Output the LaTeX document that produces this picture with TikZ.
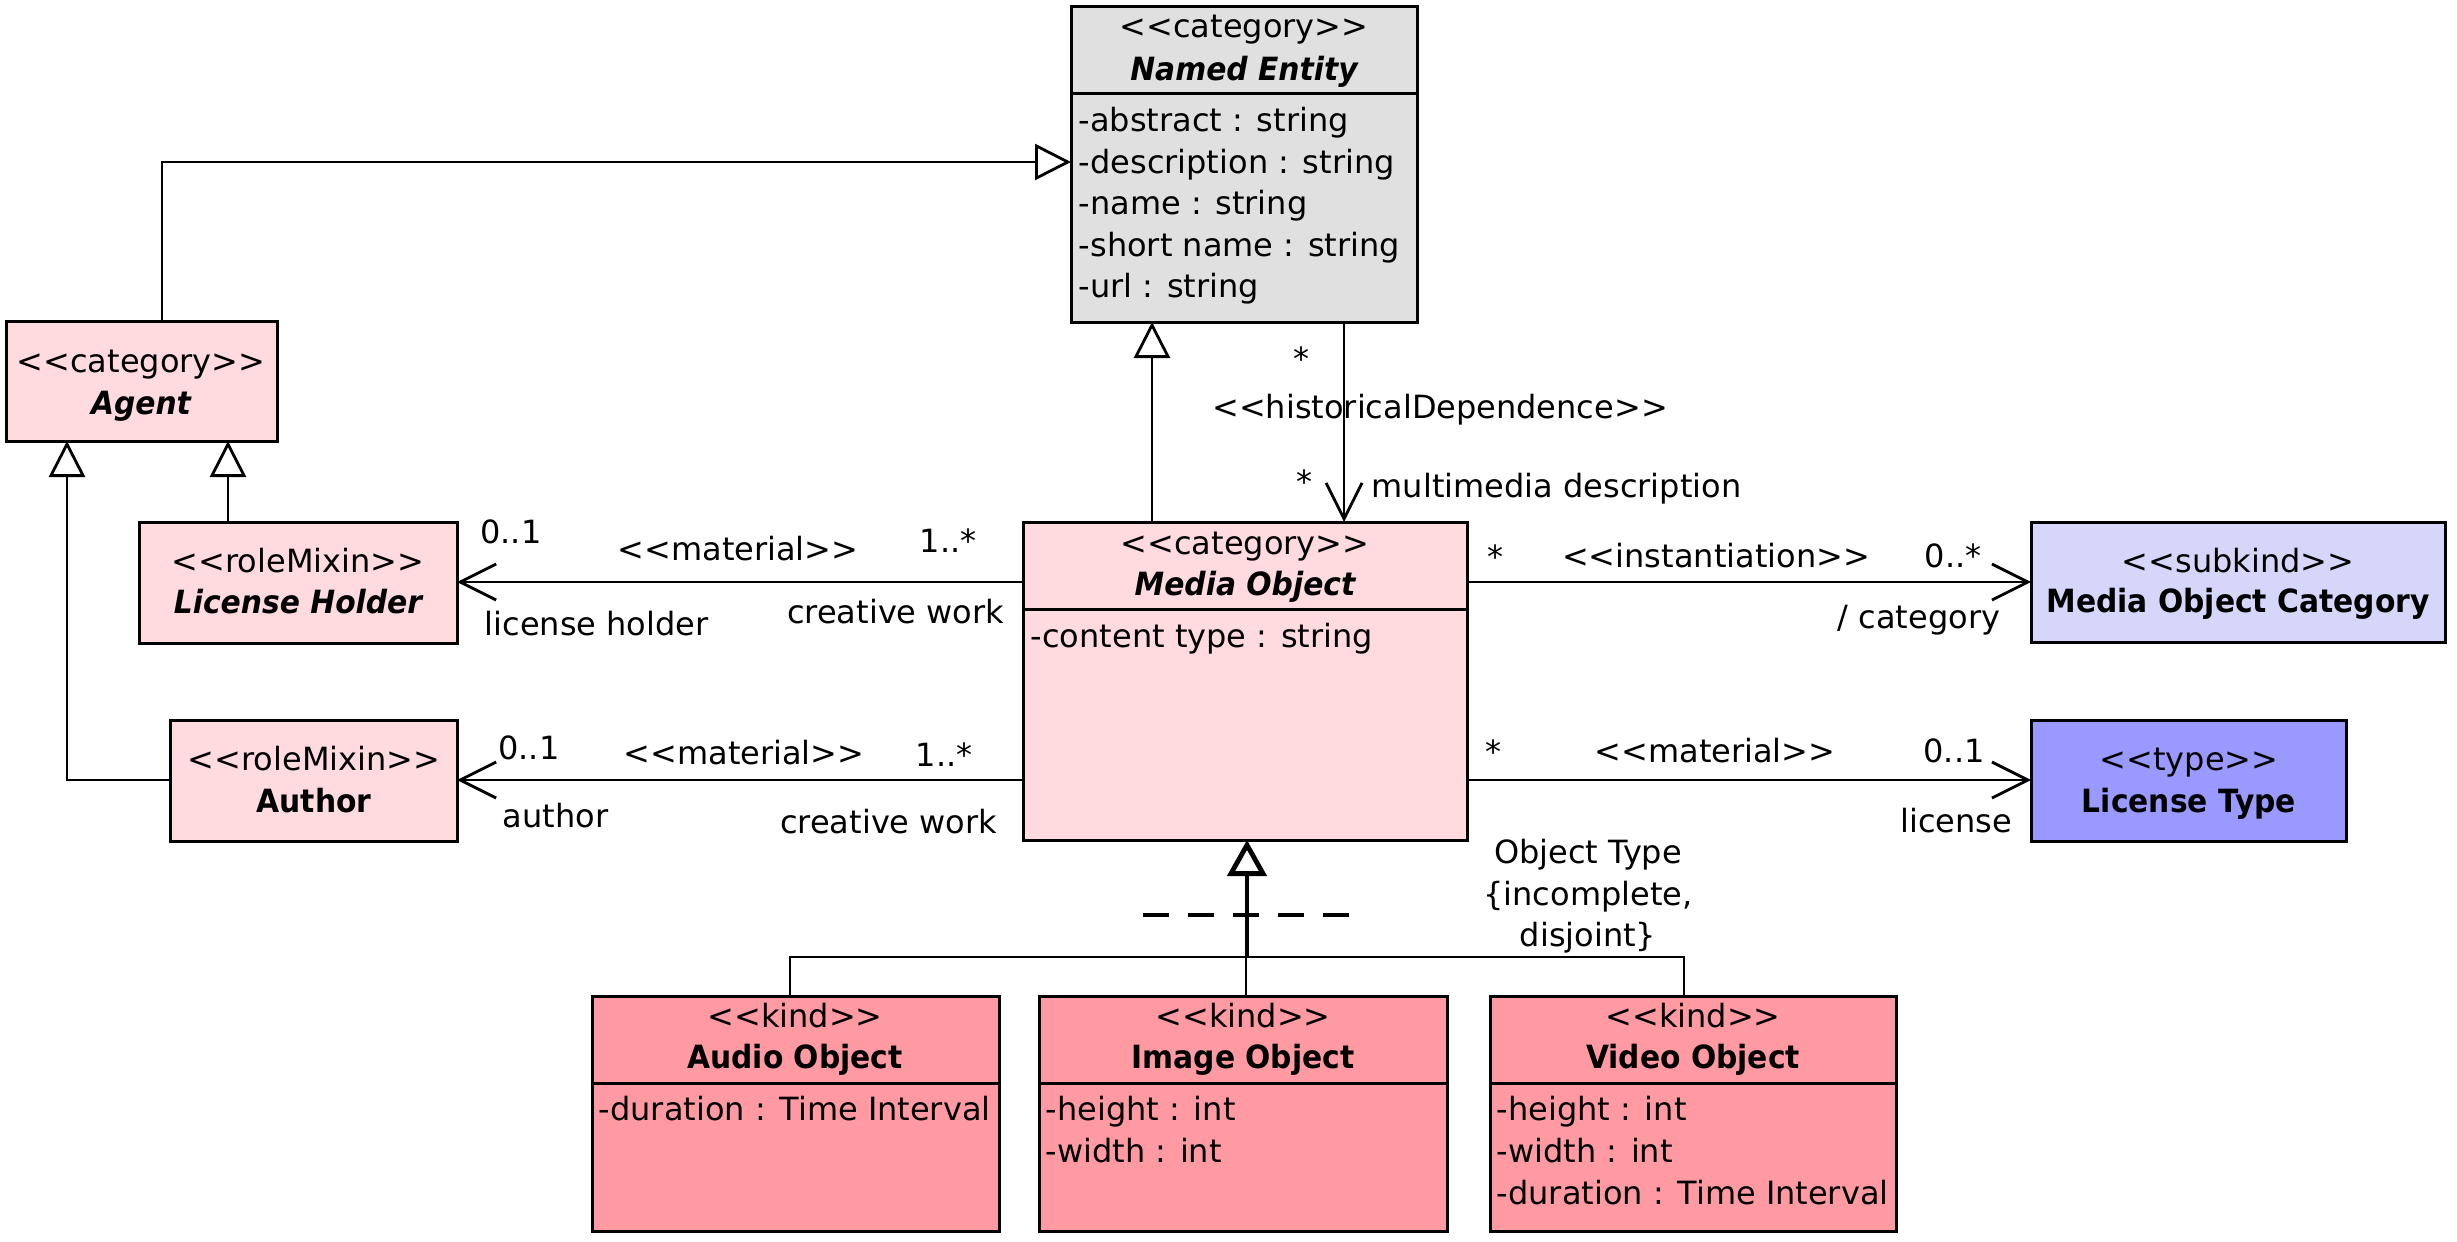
\documentclass[tikz,border=0pt]{standalone}
\usepackage{fontspec}
\setmainfont{DejaVu Sans}[BoldFeatures={FakeStretch=0.93},BoldItalicFeatures={FakeStretch=0.93}]
\usetikzlibrary{arrows.meta}
\definecolor{negray}{HTML}{E0E0E0}
\definecolor{catpink}{HTML}{FFDADF}
\definecolor{kindpink}{HTML}{FF9AA2}
\definecolor{subkindblue}{HTML}{D6D6FA}
\definecolor{typeblue}{HTML}{9999FF}
\newcommand{\stereo}[1]{<\kern0pt<#1>\kern0pt>}
\begin{document}
\begin{tikzpicture}[x=0.25pt,y=-0.25pt, font=\fontsize{8}{10}\selectfont,
 box/.style={draw, line width=0.75pt, inner sep=0pt, outer sep=0pt, anchor=north west},
 lbl/.style={inner sep=0pt, anchor=base},
 lbll/.style={inner sep=0pt, anchor=base west},
 lblr/.style={inner sep=0pt, anchor=base east},
 bi/.style={font=\fontsize{8}{10}\selectfont\bfseries\itshape},
 bo/.style={font=\fontsize{8}{10}\selectfont\bfseries},
 sepline/.style={line width=0.75pt},
 gen/.style={line width=0.7pt, -{Triangle[open, length=9pt, width=9pt]}},
 assoc/.style={line width=0.7pt, -{Straight Barb[length=9pt, width=9pt]}},
 ]
\useasboundingbox (0,0) rectangle (2457,1242);

% ---------- boxes ----------
\node[box, fill=negray, minimum width=86.5pt, minimum height=79pt] (ne) at (1071,6) {};
\draw[sepline] (ne.west |- 0,93) -- (ne.east |- 0,93);
\node[box, fill=catpink, minimum width=67.75pt, minimum height=30pt] (agent) at (6,321) {};
\node[box, fill=catpink, minimum width=79.5pt, minimum height=30.25pt] (lh) at (139,522) {};
\node[box, fill=catpink, minimum width=71.75pt, minimum height=30.25pt] (author) at (170,720) {};
\node[box, fill=catpink, minimum width=111pt, minimum height=79.5pt] (mo) at (1023,522) {};
\draw[sepline] (mo.west |- 0,609) -- (mo.east |- 0,609);
\node[box, fill=subkindblue, minimum width=103.5pt, minimum height=30pt] (moc) at (2031,522) {};
\node[box, fill=typeblue, minimum width=78.75pt, minimum height=30.25pt] (lt) at (2031,720) {};
\node[box, fill=kindpink, minimum width=101.75pt, minimum height=58.75pt] (audio) at (592,996) {};
\node[box, fill=kindpink, minimum width=102pt, minimum height=58.75pt] (image) at (1039,996) {};
\node[box, fill=kindpink, minimum width=101.5pt, minimum height=58.75pt] (video) at (1490,996) {};
\draw[sepline] (audio.west |- 0,1083) -- (audio.east |- 0,1083);
\draw[sepline] (image.west |- 0,1083) -- (image.east |- 0,1083);
\draw[sepline] (video.west |- 0,1083) -- (video.east |- 0,1083);

% ---------- box texts ----------
\node[lbl] (ne-s) at (1244,37) {\stereo{category}};
\node[lbl,bi] (ne-n) at (1244,80) {Named Entity};
\node[lbll] (ne-a1) at (1078,131) {-abstract : string};
\node[lbll] (ne-a2) at (1078,173) {-description : string};
\node[lbll] (ne-a3) at (1078,214) {-name : string};
\node[lbll] (ne-a4) at (1078,256) {-short name : string};
\node[lbll] (ne-a5) at (1078,297) {-url : string};

\node[lbl] (ag-s) at (141,372) {\stereo{category}};
\node[lbl,bi] (ag-n) at (141,414) {Agent};
\node[lbl] (lh-s) at (298,572) {\stereo{roleMixin}};
\node[lbl,bi] (lh-n) at (298,613) {License Holder};
\node[lbl] (au-s) at (314,770) {\stereo{roleMixin}};
\node[lbl,bo] (au-n) at (314,812) {Author};

\node[lbl] (mo-s) at (1245,554) {\stereo{category}};
\node[lbl,bi] (mo-n) at (1245,595) {Media Object};
\node[lbll] (mo-a1) at (1030,647) {-content type : string};

\node[lbl] (moc-s) at (2238,572) {\stereo{subkind}};
\node[lbl,bo] (moc-n) at (2238,612) {Media Object Category};
\node[lbl] (lt-s) at (2189,770) {\stereo{type}};
\node[lbl,bo] (lt-n) at (2189,812) {License Type};

\node[lbl] (au2-s) at (795,1027) {\stereo{kind}};
\node[lbl,bo] (au2-n) at (795,1068) {Audio Object};
\node[lbll] (au2-a1) at (598,1120) {-duration : Time Interval};
\node[lbl] (im-s) at (1243,1027) {\stereo{kind}};
\node[lbl,bo] (im-n) at (1243,1068) {Image Object};
\node[lbll] (im-a1) at (1045,1120) {-height : int};
\node[lbll] (im-a2) at (1045,1162) {-width : int};
\node[lbl] (vi-s) at (1693,1027) {\stereo{kind}};
\node[lbl,bo] (vi-n) at (1693,1068) {Video Object};
\node[lbll] (vi-a1) at (1496,1120) {-height : int};
\node[lbll] (vi-a2) at (1496,1162) {-width : int};
\node[lbll] (vi-a3) at (1496,1204) {-duration : Time Interval};

% ---------- generalizations ----------
\draw[gen] (agent.north -| 162,0) |- (ne.west |- 0,162);
\draw[gen] (lh.north -| 228,0) -- (agent.south -| 228,0);
\draw[gen] (author.west |- 0,780) -| (agent.south -| 67,0);
\draw[gen] (mo.north -| 1152,0) -- (ne.south -| 1152,0);

% generalization set
\coordinate (gs) at (1247,957);
\draw[line width=1.2pt, -{Triangle[open, length=9pt, width=9.75pt]}] (gs) -- (mo.south -| gs);
\draw[line width=0.7pt] (audio.north -| 790,0) |- (gs) -| (video.north -| 1684,0);
\draw[line width=0.7pt] (image.north -| 1246,0) -- (1246,957);
\draw[line width=1pt, dash pattern=on 6.5pt off 4.75pt] (1143,915) -- (1350,915);
\node[lbl] (gs-1) at (1588,863) {Object Type};
\node[lbl] (gs-2) at (1588,905) {\{incomplete,};
\node[lbl] (gs-3) at (1588,946) {disjoint\}};

% ---------- associations ----------
\draw[assoc] (ne.south -| 1344,0) -- (mo.north -| 1344,0);
\node[lbl] (hd-m1) at (1301,370) {*};
\node[lbl] (hd-st) at (1440,418) {\stereo{historicalDependence}};
\node[lbl] (hd-m2) at (1304,493) {*};
\node[lbll] (hd-r) at (1371,497) {multimedia description};

\draw[assoc] (mo.west |- 0,582) -- (lh.east |- 0,582);
\node[lbl] (lh-m1) at (511,543) {0..1};
\node[lbl] (lh-st) at (738,560) {\stereo{material}};
\node[lbl] (lh-m2) at (948,552) {1..*};
\node[lbll] (lh-r1) at (484,635) {license holder};
\node[lblr] (lh-r2) at (1005,623) {creative work};

\draw[assoc] (mo.west |- 0,780) -- (author.east |- 0,780);
\node[lbl] (au-m1) at (529,759) {0..1};
\node[lbl] (au-st) at (744,764) {\stereo{material}};
\node[lbl] (au-m2) at (944,766) {1..*};
\node[lbll] (au-r1) at (502,827) {author};
\node[lblr] (au-r2) at (998,833) {creative work};

\draw[assoc] (mo.east |- 0,582) -- (moc.west |- 0,582);
\node[lbl] (in-m1) at (1495,568) {*};
\node[lbl] (in-st) at (1716,567) {\stereo{instantiation}};
\node[lbl] (in-m2) at (1953,567) {0..*};
\node[lblr] (in-r) at (2001,628) {/ category};

\draw[assoc] (mo.east |- 0,780) -- (lt.west |- 0,780);
\node[lbl] (lt-m1) at (1493,763) {*};
\node[lbl] (lt-st) at (1715,762) {\stereo{material}};
\node[lbl] (lt-m2) at (1954,762) {0..1};
\node[lblr] (lt-r) at (2013,832) {license};
\end{tikzpicture}
\end{document}
